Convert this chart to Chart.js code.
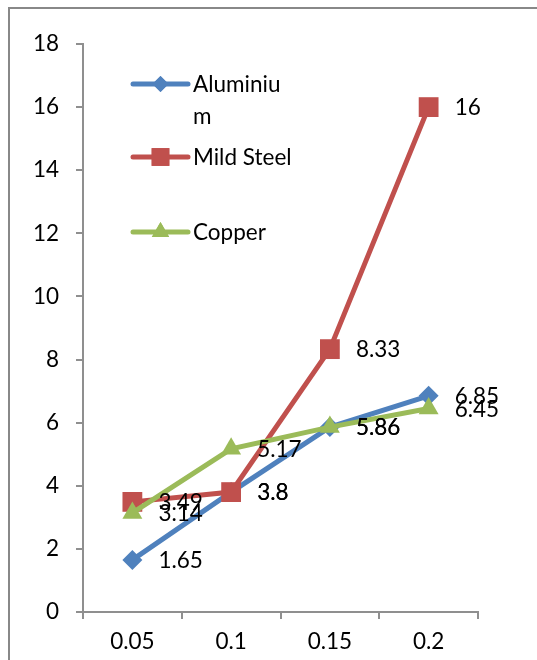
<!DOCTYPE html>
<html>
<head>
<meta charset="utf-8">
<script src="https://cdn.jsdelivr.net/npm/chart.js@4/dist/chart.umd.min.js"></script>
<style>
  html, body { margin: 0; padding: 0; background: #ffffff; }
  #wrap { width: 537px; height: 660px; }
</style>
</head>
<body>
<div id="wrap"><canvas id="chart" width="537" height="660"></canvas></div>
<script>
// Categories along the x axis
const categories = ['0.05', '0.1', '0.15', '0.2'];

// Series values
const aluminium = [1.65, 3.8, 5.86, 6.85];
const mildSteel = [3.49, 3.8, 8.33, 16];
const copper = [3.14, 5.17, 5.86, 6.45];

// Series names and how the legend breaks them into lines
const seriesNames = ['Aluminium', 'Mild Steel', 'Copper'];
const legendLines = [['Aluminiu', 'm'], ['Mild Steel'], ['Copper']];

// Value axis range
const yMin = 0;
const yMax = 18;
const yStep = 2;

const FONT = 'Lato, "Open Sans", sans-serif';
const FONT_SIZE = 22.5;
const AXIS_GREY = '#8f8f8f';

// Outer frame around the chart
const framePlugin = {
  id: 'frame',
  beforeDraw(chart) {
    const ctx = chart.ctx;
    ctx.save();
    ctx.fillStyle = '#ffffff';
    ctx.fillRect(0, 0, chart.width, chart.height);
    ctx.strokeStyle = '#888888';
    ctx.lineWidth = 2;
    ctx.strokeRect(9, 8, chart.width + 20, chart.height + 20);
    ctx.restore();
  }
};

// Value labels to the right of each marker
const valueLabelPlugin = {
  id: 'valueLabels',
  afterDatasetsDraw(chart) {
    const ctx = chart.ctx;
    ctx.save();
    ctx.font = FONT_SIZE + 'px ' + FONT;
    ctx.fillStyle = '#000000';
    ctx.textAlign = 'left';
    ctx.textBaseline = 'middle';
    chart.data.datasets.forEach((ds, i) => {
      const meta = chart.getDatasetMeta(i);
      meta.data.forEach((pt, j) => {
        ctx.fillText(String(ds.data[j]), pt.x + 26, pt.y + 1);
      });
    });
    ctx.restore();
  }
};

// Legend drawn inside the plot area, upper left
const insideLegendPlugin = {
  id: 'insideLegend',
  afterDraw(chart) {
    const ctx = chart.ctx;
    const area = chart.chartArea;
    const x0 = area.left + 50;
    const lineLen = 55;
    const rows = [area.top + 40, area.top + 113, area.top + 188];
    const markerRadius = { rectRot: 8, rect: 12.5, triangle: 10 };
    ctx.save();
    chart.data.datasets.forEach((ds, i) => {
      const y = rows[i];
      ctx.strokeStyle = ds.borderColor;
      ctx.lineWidth = 5;
      ctx.lineCap = 'round';
      ctx.beginPath();
      ctx.moveTo(x0, y);
      ctx.lineTo(x0 + lineLen, y);
      ctx.stroke();
      ctx.fillStyle = ds.backgroundColor;
      Chart.helpers.drawPoint(ctx, {
        pointStyle: ds.pointStyle,
        radius: markerRadius[ds.pointStyle],
        borderWidth: 0,
        rotation: 0
      }, x0 + lineLen / 2, y);
      ctx.fill();
      ctx.font = FONT_SIZE + 'px ' + FONT;
      ctx.fillStyle = '#000000';
      ctx.textAlign = 'left';
      ctx.textBaseline = 'middle';
      legendLines[i].forEach((txt, k) => {
        ctx.fillText(txt, x0 + lineLen + 5, y + 1 + k * 32);
      });
    });
    ctx.restore();
  }
};

const colors = ['#4F81BD', '#C0504D', '#9BBB59'];
const styles = ['rectRot', 'rect', 'triangle'];
const radii = [10, 14, 11.5];
const values = [aluminium, mildSteel, copper];

const datasets = values.map((v, i) => ({
  label: seriesNames[i],
  data: v,
  borderColor: colors[i],
  backgroundColor: colors[i],
  borderWidth: 5,
  pointStyle: styles[i],
  pointRadius: radii[i],
  pointHoverRadius: radii[i],
  pointBorderWidth: 0,
  pointBackgroundColor: colors[i],
  tension: 0,
  order: 3 - i,
  clip: false
}));

new Chart(document.getElementById('chart'), {
  type: 'line',
  data: { labels: categories, datasets: datasets },
  options: {
    responsive: false,
    animation: false,
    layout: { padding: { left: 0, right: 59, top: 44, bottom: 0 } },
    plugins: {
      legend: { display: false },
      tooltip: { enabled: false }
    },
    scales: {
      x: {
        offset: true,
        grid: {
          offset: true,
          drawOnChartArea: false,
          drawTicks: true,
          tickLength: 7,
          color: AXIS_GREY,
          lineWidth: 2
        },
        border: { color: AXIS_GREY, width: 2 },
        ticks: {
          color: '#000000',
          font: { family: FONT, size: FONT_SIZE },
          padding: 9,
          maxRotation: 0
        },
        afterFit(scale) { scale.height = 48; }
      },
      y: {
        min: yMin,
        max: yMax,
        grid: {
          drawOnChartArea: false,
          drawTicks: true,
          tickLength: 7,
          color: AXIS_GREY,
          lineWidth: 2
        },
        border: { color: AXIS_GREY, width: 2 },
        ticks: {
          stepSize: yStep,
          color: '#000000',
          font: { family: FONT, size: FONT_SIZE },
          padding: 17
        },
        afterFit(scale) { scale.width = 83; }
      }
    }
  },
  plugins: [framePlugin, valueLabelPlugin, insideLegendPlugin]
});
</script>
</body>
</html>
